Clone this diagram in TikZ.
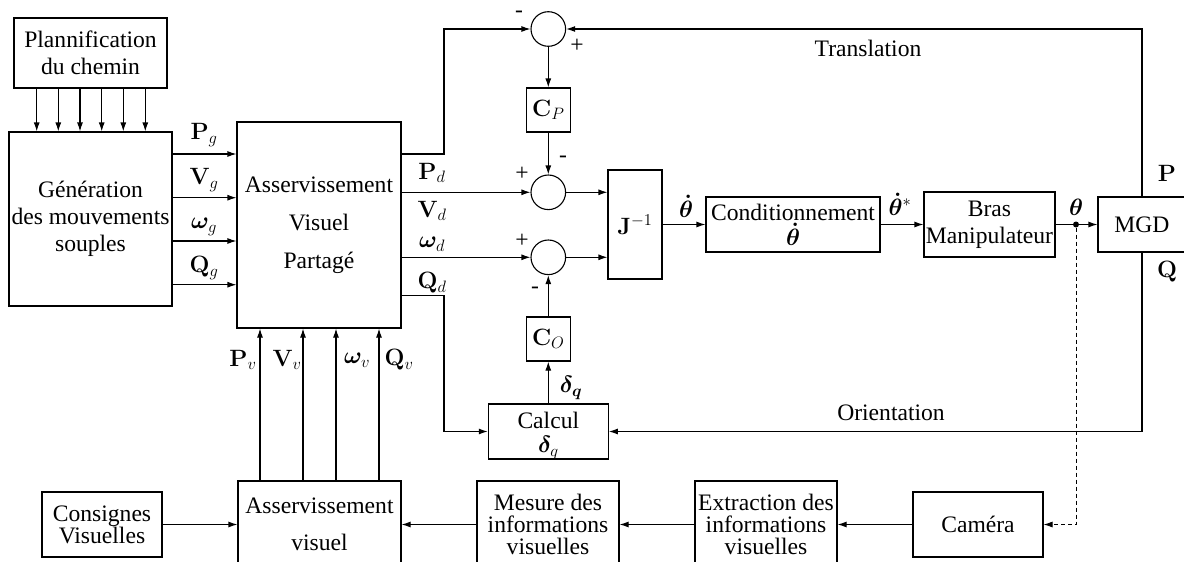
\RequirePackage{fix-cm}
\documentclass[tikz,border=0pt]{standalone}
\usepackage{amsmath,bm}
\usepackage[no-math]{fontspec}
\setmainfont{Liberation Serif}
\usetikzlibrary{arrows.meta}
\tikzset{
  blk/.style={draw, line width=1.1pt, inner sep=0pt, align=center},
  sumn/.style={draw, circle, minimum size=34.6pt, inner sep=0pt, line width=1.1pt},
  arr/.style={-{Latex[length=9pt,width=6pt]}, line width=1.1pt},
  lbl/.style={inner sep=0pt},
  dotn/.style={circle, fill, inner sep=0pt, minimum size=6pt},
}
\begin{document}
\begin{tikzpicture}[x=1pt,y=-1pt,font=\fontsize{23.6}{27}\selectfont]
\useasboundingbox (0,0) rectangle (1184,562);
% blocks
\node[blk, minimum width=153pt, minimum height=70pt] (plan) at (90.5,53) {Plannification\\du chemin};
\node[blk, minimum width=163pt, minimum height=174pt] (gen) at (90.5,219) {Génération\\des mouvements\\souples};
\node[blk, minimum width=164pt, minimum height=206pt] (avp) at (319,225) {Asservissement\\[11pt]Visuel\\[11pt]Partagé};
\node[sumn] (c1) at (548.3,29) {};
\node[sumn] (c2) at (548.3,192.3) {};
\node[sumn] (c3) at (548.3,257.3) {};
\node[blk, minimum width=44pt, minimum height=44pt] (cp) at (548.3,110) {$\mathbf{C}_P$};
\node[blk, minimum width=44pt, minimum height=44pt] (co) at (548.3,339) {$\mathbf{C}_O$};
\node[blk, minimum width=54pt, minimum height=109pt] (J) at (635,224.5) {$\mathbf{J}^{-1}$};
\node[blk, minimum width=174pt, minimum height=55pt] (cond) at (793,224.5) {Conditionnement\\[-2pt]$\bm{\dot{\theta}}$};
\node[blk, minimum width=131pt, minimum height=65pt] (bras) at (989.5,224.5) {Bras\\Manipulateur};
\node[blk, minimum width=88pt, minimum height=55pt] (mgd) at (1142,224.5) {MGD};
\node[blk, minimum width=120pt, minimum height=55pt] (calc) at (548.3,431.5) {\raisebox{-4pt}[\height][\depth]{\begin{tabular}{@{}c@{}}Calcul\\[-3pt]$\bm{\delta}_q$\end{tabular}}};
\node[blk, minimum width=120pt, minimum height=65pt] (cons) at (102,524.5) {Consignes\\[-5pt]Visuelles};
\node[blk, minimum width=163pt, minimum height=87pt] (avb) at (319.5,524.5) {Asservissement\\[10pt]visuel};
\node[blk, minimum width=142pt, minimum height=87pt] (mes) at (548,524.5) {Mesure des\\[-5pt]informations\\[-5pt]visuelles};
\node[blk, minimum width=142pt, minimum height=87pt] (ext) at (766,524.5) {Extraction des\\[-5pt]informations\\[-5pt]visuelles};
\node[blk, minimum width=130pt, minimum height=65pt] (cam) at (978,524.5) {Caméra};
\node[dotn] (dot) at (1076,224.5) {};
% planning arrows
\foreach \d in {-53.8,-32.2,-10.5,11.2,32.8,54.8}
  \draw[arr] ([xshift=\d pt]plan.south) -- ([xshift=\d pt]gen.north);
% generation -> avp
\foreach \yy in {154,197.7,241,284.7}
  \draw[arr] (gen.east |- 0,\yy) -- (avp.west |- 0,\yy);
\node[lbl] at (204,135) {$\mathbf{P}_g$};
\node[lbl] at (204,180) {$\mathbf{V}_g$};
\node[lbl] at (204,227) {$\bm{\omega}_g$};
\node[lbl] at (204,268) {$\mathbf{Q}_g$};
% avp outputs
\draw[arr] (avp.east |- 0,154) -- (444,154) |- (c1.west);
\draw[arr] (avp.east |- 0,192.3) -- (c2.west);
\draw[arr] (avp.east |- 0,257.3) -- (c3.west);
\draw[arr] (avp.east |- 0,295.7) -- (444,295.7) |- (calc.west);
\node[lbl] at (432,173) {$\mathbf{P}_d$};
\node[lbl] at (432,211) {$\mathbf{V}_d$};
\node[lbl] at (432,244) {$\bm{\omega}_d$};
\node[lbl] at (432,283) {$\mathbf{Q}_d$};
% loop
\draw[arr] (c1.south) -- (cp.north);
\draw[arr] (cp.south) -- (c2.north);
\draw[arr] (calc.north) -- (co.south);
\draw[arr] (co.north) -- (c3.south);
\draw[arr] (c2.east) -- (J.west |- c2.east);
\draw[arr] (c3.east) -- (J.west |- c3.east);
\draw[arr] (J.east) -- (cond.west);
\draw[arr] (cond.east) -- (bras.west);
\draw[arr] (bras.east) -- (mgd.west);
\draw[arr] (mgd.north) |- (c1.east);
\draw[arr] (mgd.south) |- (calc.east);
\draw[arr, line width=0.9pt, dash pattern=on 4pt off 3pt] (dot) |- (cam.east);
% signs
\node[lbl] at (519,14) {-};
\node[lbl] at (577,46) {+};
\node[lbl] at (522,174) {+};
\node[lbl] at (563,159) {-};
\node[lbl] at (522,241) {+};
\node[lbl] at (535,290) {-};
% labels
\node[lbl] at (571,388) {$\bm{\delta}_{\bm{q}}$};
\node[lbl] at (686,206) {$\bm{\dot{\theta}}$};
\node[lbl] at (900,204) {$\bm{\dot{\theta}}^{*}$};
\node[lbl] at (1076,207) {$\bm{\theta}$};
\node[lbl] at (1167,173) {$\mathbf{P}$};
\node[lbl] at (1167,272) {$\mathbf{Q}$};
\node[lbl] at (868,48) {Translation};
\node[lbl] at (891,413) {Orientation};
% bottom
\draw[arr] (cons.east) -- (avb.west);
\draw[arr] (mes.west) -- (avb.east);
\draw[arr] (ext.west) -- (mes.east);
\draw[arr] (cam.west) -- (ext.east);
\foreach \xx in {260,303,336,379}
  \draw[arr] (avb.north -| \xx,0) -- (avp.south -| \xx,0);
\node[lbl] at (243,360) {$\mathbf{P}_v$};
\node[lbl] at (287,360) {$\mathbf{V}_v$};
\node[lbl] at (357,360) {$\bm{\omega}_v$};
\node[lbl] at (399,360) {$\mathbf{Q}_v$};
\end{tikzpicture}
\end{document}
